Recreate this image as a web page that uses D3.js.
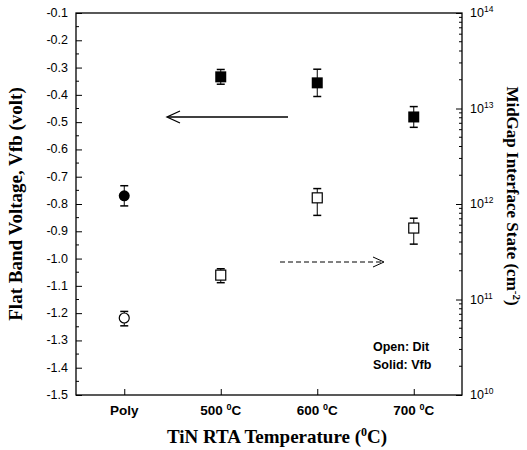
<!DOCTYPE html>
<html>
<head>
<meta charset="utf-8">
<script src="https://cdn.jsdelivr.net/npm/d3@7"></script>
<style>
body { margin: 0; background: #fff; }
</style>
</head>
<body>
<div id="chart"></div>
<script>
// categories on the x axis
let categories = ["Poly", "500", "600", "700"];
// flat band voltage (solid markers, left axis)
let vfb = [-0.77, -0.334, -0.356, -0.481];
let vfbErr = [0.037, 0.027, 0.05, 0.038];
// midgap interface state (open markers, right axis, log)
let dit = [6.4e10, 1.8e11, 1.16e12, 5.6e11];
let ditLow = [5.3e10, 1.5e11, 7.6e11, 3.8e11];
let ditHigh = [7.5e10, 2.1e11, 1.45e12, 7.1e11];
let leftTicks = [-0.1, -0.2, -0.3, -0.4, -0.5, -0.6, -0.7, -0.8, -0.9, -1.0, -1.1, -1.2, -1.3, -1.4, -1.5];
let rightTicks = [10, 11, 12, 13, 14];

let svgWidth = 527;
let svgHeight = 450;
let plotL = 76, plotR = 462, plotT = 13, plotB = 395;

let svg = d3.select("#chart")
    .append("svg")
    .attr("width", svgWidth)
    .attr("height", svgHeight);

let x = d3.scalePoint().domain(categories).range([plotL, plotR]).padding(0.5);
let yL = d3.scaleLinear().domain([-1.5, -0.1]).range([plotB, plotT]);
let yR = d3.scaleLog().domain([1e10, 1e14]).range([plotB, plotT]);

let tickFont = "Liberation Sans, Arial, sans-serif";
let titleFont = "Liberation Serif, Times New Roman, serif";

// frame
svg.append("rect")
    .attr("x", plotL).attr("y", plotT)
    .attr("width", plotR - plotL).attr("height", plotB - plotT)
    .attr("fill", "none").attr("stroke", "#000").attr("stroke-width", 1.3);

// left axis: major ticks inward, minor between
let leftAxis = d3.axisRight(yL).tickValues(leftTicks).tickSize(6).tickFormat("");
let gl = svg.append("g").attr("transform", "translate(" + plotL + ",0)").call(leftAxis);
gl.select(".domain").remove();
let minorL = d3.range(-1.45, -0.1, 0.1);
gl.selectAll(".minor").data(minorL).enter().append("line")
    .attr("x1", 0).attr("x2", 3)
    .attr("y1", d => yL(d)).attr("y2", d => yL(d))
    .attr("stroke", "#000");
svg.selectAll(".ltick").data(leftTicks).enter().append("text")
    .attr("x", plotL - 8)
    .attr("y", d => yL(d) + 4)
    .attr("text-anchor", "end")
    .attr("font-family", tickFont)
    .attr("font-size", 12.5)
    .text(d => d.toFixed(1));

// right axis (log)
let rightAxis = d3.axisLeft(yR).tickValues(rightTicks.map(p => Math.pow(10, p))).tickSize(6).tickFormat("");
let gr = svg.append("g").attr("transform", "translate(" + plotR + ",0)").call(rightAxis);
gr.select(".domain").remove();
let minorR = [];
for (let p = 10; p < 14; p++) for (let m = 2; m <= 9; m++) minorR.push(m * Math.pow(10, p));
gr.selectAll(".minor").data(minorR).enter().append("line")
    .attr("x1", 0).attr("x2", -3)
    .attr("y1", d => yR(d)).attr("y2", d => yR(d))
    .attr("stroke", "#000");
let rl = svg.selectAll(".rtick").data(rightTicks).enter().append("text")
    .attr("x", plotR + 8)
    .attr("y", d => yR(Math.pow(10, d)) + 4)
    .attr("font-family", tickFont)
    .attr("font-size", 12.5);
rl.append("tspan").text("10");
rl.append("tspan").attr("dy", -5).attr("font-size", 8.5).text(d => d);

// bottom ticks
let gb = svg.append("g").attr("transform", "translate(0," + plotB + ")")
    .call(d3.axisTop(x).tickSize(6).tickFormat(""));
gb.select(".domain").remove();
let bl = svg.selectAll(".btick").data(categories).enter().append("text")
    .attr("x", d => x(d))
    .attr("y", plotB + 20)
    .attr("text-anchor", "middle")
    .attr("font-family", tickFont)
    .attr("font-weight", "bold")
    .attr("font-size", 13.5);
bl.each(function(d) {
    let t = d3.select(this);
    if (d === "Poly") { t.text(d); return; }
    t.append("tspan").text(d + " ");
    t.append("tspan").attr("dy", -5).attr("font-size", 9).text("0");
    t.append("tspan").attr("dy", 5).text("C");
});

// axis titles
svg.append("text")
    .attr("transform", "translate(22," + ((plotT + plotB) / 2) + ") rotate(-90)")
    .attr("text-anchor", "middle")
    .attr("font-family", titleFont)
    .attr("font-weight", "bold")
    .attr("font-size", 19)
    .text("Flat Band Voltage, Vfb (volt)");

let rt = svg.append("text")
    .attr("transform", "translate(507," + ((plotT + plotB) / 2 - 8) + ") rotate(90)")
    .attr("text-anchor", "middle")
    .attr("font-family", titleFont)
    .attr("font-weight", "bold")
    .attr("font-size", 17);
rt.append("tspan").text("MidGap Interface State (cm");
rt.append("tspan").attr("dy", -6).attr("font-size", 11).text("-2");
rt.append("tspan").attr("dy", 6).text(")");

let bt = svg.append("text")
    .attr("x", (plotL + plotR) / 2 + 8)
    .attr("y", 443)
    .attr("text-anchor", "middle")
    .attr("font-family", titleFont)
    .attr("font-weight", "bold")
    .attr("font-size", 19);
bt.append("tspan").text("TiN RTA Temperature (");
bt.append("tspan").attr("dy", -7).attr("font-size", 12).text("0");
bt.append("tspan").attr("dy", 7).text("C)");

// error bars
function errBar(xv, y1, y2) {
    svg.append("line").attr("x1", xv).attr("x2", xv).attr("y1", y1).attr("y2", y2)
        .attr("stroke", "#000").attr("stroke-width", 1);
    [y1, y2].forEach(yy => {
        svg.append("line").attr("x1", xv - 4).attr("x2", xv + 4).attr("y1", yy).attr("y2", yy)
            .attr("stroke", "#000").attr("stroke-width", 1.5);
    });
}

for (let i = 0; i < categories.length; i++) {
    let cx = x(categories[i]);
    // Vfb
    errBar(cx, yL(vfb[i] + vfbErr[i]), yL(vfb[i] - vfbErr[i]));
    if (i === 0) {
        svg.append("circle").attr("cx", cx).attr("cy", yL(vfb[i])).attr("r", 5.5).attr("fill", "#000");
    } else {
        svg.append("rect").attr("x", cx - 5.5).attr("y", yL(vfb[i]) - 5.5)
            .attr("width", 11).attr("height", 11).attr("fill", "#000");
    }
    // Dit
    errBar(cx, yR(ditHigh[i]), yR(ditLow[i]));
    if (i === 0) {
        svg.append("circle").attr("cx", cx).attr("cy", yR(dit[i])).attr("r", 5)
            .attr("fill", "#fff").attr("stroke", "#000").attr("stroke-width", 1.2);
    } else {
        svg.append("rect").attr("x", cx - 5).attr("y", yR(dit[i]) - 5)
            .attr("width", 10).attr("height", 10)
            .attr("fill", "#fff").attr("stroke", "#000").attr("stroke-width", 1.2);
    }
}

// arrows pointing to each axis
svg.append("line").attr("x1", 288).attr("x2", 168).attr("y1", 117).attr("y2", 117)
    .attr("stroke", "#000").attr("stroke-width", 1.5);
svg.append("path").attr("d", "M180,111 L167,117 L180,123")
    .attr("fill", "none").attr("stroke", "#000").attr("stroke-width", 1.3);

svg.append("line").attr("x1", 280).attr("x2", 383).attr("y1", 262).attr("y2", 262)
    .attr("stroke", "#000").attr("stroke-width", 1).attr("stroke-dasharray", "5,3");
svg.append("path").attr("d", "M373,257 L384,262 L373,267")
    .attr("fill", "none").attr("stroke", "#000").attr("stroke-width", 1);

// legend note
svg.append("text").attr("x", 373).attr("y", 351)
    .attr("font-family", tickFont).attr("font-weight", "bold").attr("font-size", 12.5)
    .text("Open: Dit");
svg.append("text").attr("x", 373).attr("y", 369)
    .attr("font-family", tickFont).attr("font-weight", "bold").attr("font-size", 12.5)
    .text("Solid: Vfb");
</script>
</body>
</html>
